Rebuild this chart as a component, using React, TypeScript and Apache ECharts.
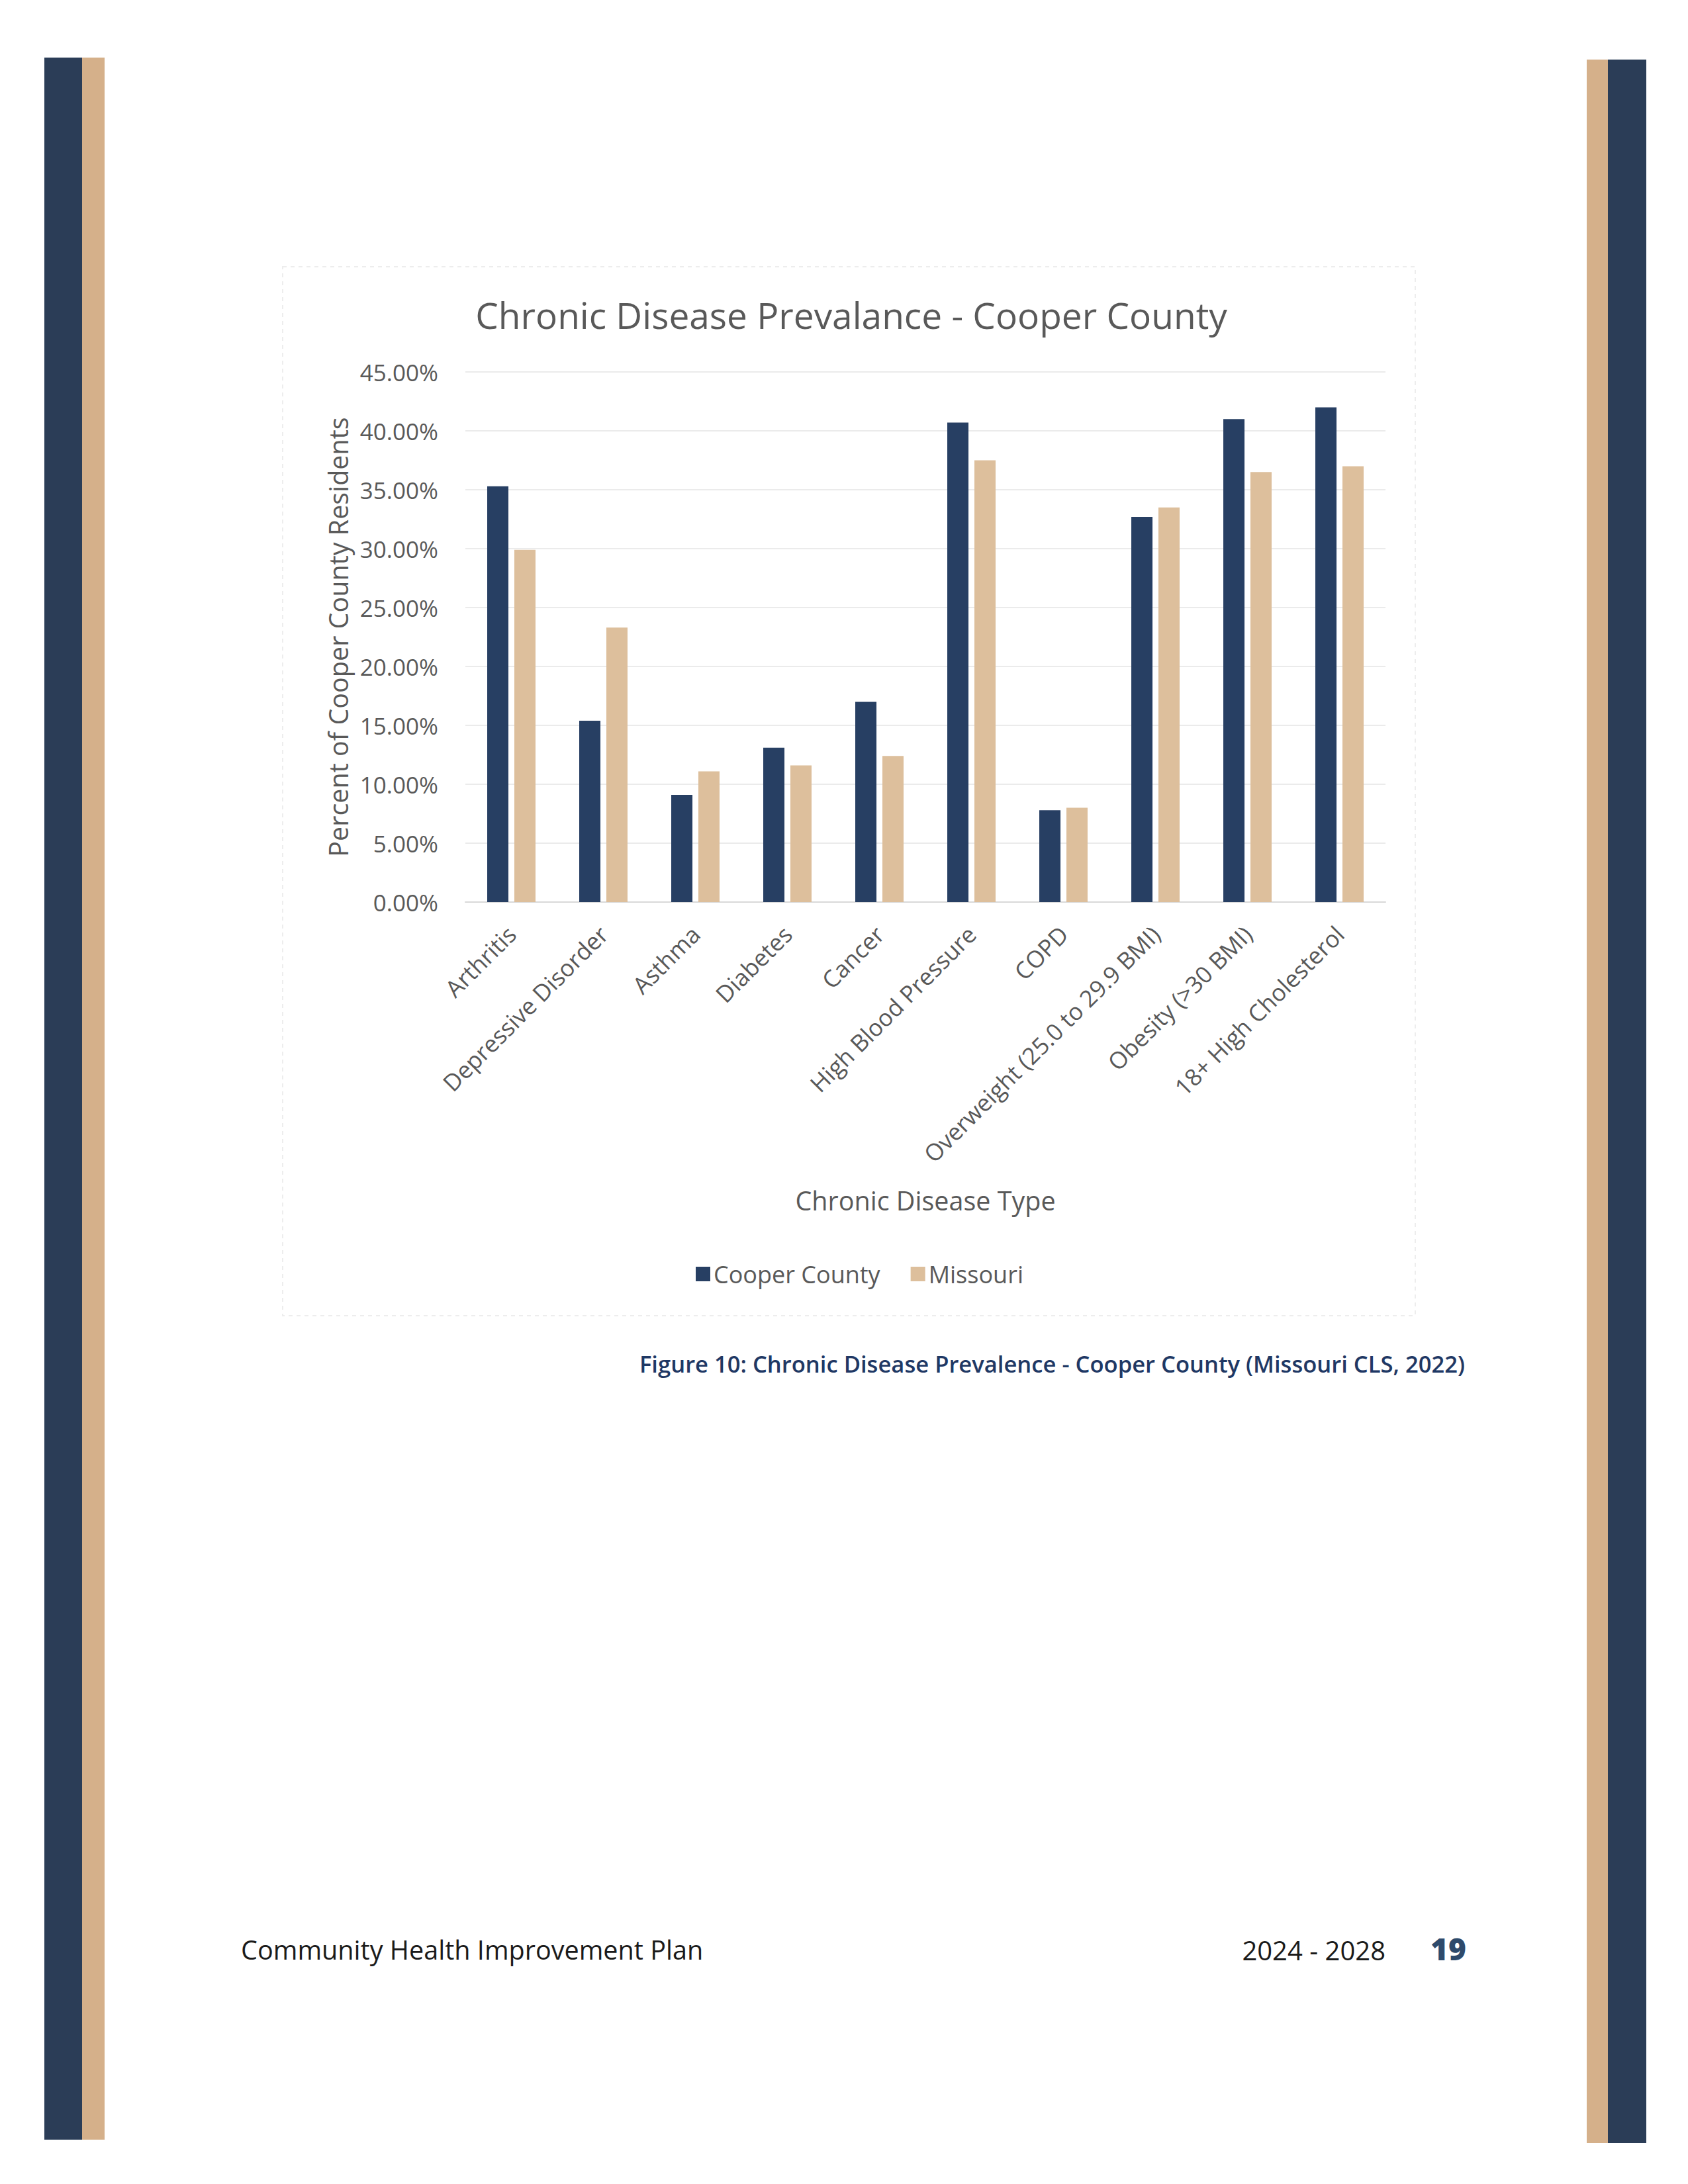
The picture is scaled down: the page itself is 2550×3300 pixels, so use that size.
import React, { useEffect, useRef } from "react";
import * as echarts from "echarts";

const categories = [
  "Arthritis",
  "Depressive Disorder",
  "Asthma",
  "Diabetes",
  "Cancer",
  "High Blood Pressure",
  "COPD",
  "Overweight (25.0 to 29.9 BMI)",
  "Obesity (>30 BMI)",
  "18+ High Cholesterol",
];
const cooperCounty = [35.3, 15.4, 9.1, 13.1, 17.0, 40.7, 7.8, 32.7, 41.0, 42.0];
const missouri = [29.9, 23.3, 11.1, 11.6, 12.4, 37.5, 8.0, 33.5, 36.5, 37.0];
const seriesNames = ["Cooper County", "Missouri"];

const chartTitle = "Chronic Disease Prevalance - Cooper County";
const yAxisTitle = "Percent of Cooper County Residents";
const xAxisTitle = "Chronic Disease Type";
const caption = "Figure 10: Chronic Disease Prevalence - Cooper County (Missouri CLS, 2022)";
const footerLeft = "Community Health Improvement Plan";
const footerYears = "2024 - 2028";
const pageNumber = "19";

const NAVY = "#273F63";
const TAN = "#DDBF9C";
const SIDE_NAVY = "#2B3D57";
const SIDE_TAN = "#D5B08A";
const GRAY = "#595959";
const FONT = "'Open Sans', 'Noto Sans', sans-serif";

export default function App() {
  const ref = useRef<HTMLDivElement>(null);
  useEffect(() => {
    if (!ref.current) return;
    const chart = echarts.init(ref.current, null, { renderer: "svg" });
    chart.setOption({
      animation: false,
      backgroundColor: "#ffffff",
      textStyle: { fontFamily: FONT },
      title: {
        text: chartTitle,
        left: 1281,
        top: 443,
        textAlign: "center",
        textStyle: { fontFamily: FONT, fontSize: 55, fontWeight: "normal", color: GRAY },
      },
      legend: {
        data: seriesNames,
        left: 1046,
        top: 1902,
        itemWidth: 22,
        itemHeight: 22,
        itemGap: 46,
        icon: "rect",
        textStyle: { fontFamily: FONT, fontSize: 36, color: GRAY },
      },
      grid: {
        left: 703,
        right: 2550 - 2093,
        top: 562,
        bottom: 3300 - 1363,
        containLabel: false,
        outerBoundsMode: "none",
      },
      xAxis: {
        type: "category",
        data: categories,
        axisTick: { show: false },
        axisLine: { lineStyle: { color: "#D9D9D9", width: 2 } },
        axisLabel: {
          rotate: 45,
          interval: 0,
          margin: 42,
          fontFamily: FONT,
          fontSize: 35.5,
          color: GRAY,
        },
        name: xAxisTitle,
        nameLocation: "middle",
        nameGap: 431,
        nameTextStyle: { fontFamily: FONT, fontSize: 39.5, color: GRAY },
      },
      yAxis: {
        type: "value",
        min: 0,
        max: 45,
        interval: 5,
        axisLine: { show: false },
        axisTick: { show: false },
        splitLine: { lineStyle: { color: "#EBEBEB", width: 2 } },
        axisLabel: {
          margin: 41,
          fontFamily: FONT,
          fontSize: 35,
          color: GRAY,
          formatter: (v: number) => v.toFixed(2) + "%",
        },
        name: yAxisTitle,
        nameLocation: "middle",
        nameGap: 172,
        nameTextStyle: { fontFamily: FONT, fontSize: 39.5, color: GRAY },
      },
      series: [
        {
          name: seriesNames[0],
          type: "bar",
          data: cooperCounty,
          barWidth: 32,
          barGap: "28%",
          itemStyle: { color: NAVY },
        },
        {
          name: seriesNames[1],
          type: "bar",
          data: missouri,
          barWidth: 32,
          barGap: "28%",
          itemStyle: { color: TAN },
        },
      ],
      graphic: [
        { type: "rect", shape: { x: 67, y: 87, width: 57, height: 3146 }, style: { fill: SIDE_NAVY } },
        { type: "rect", shape: { x: 124, y: 87, width: 34, height: 3146 }, style: { fill: SIDE_TAN } },
        { type: "rect", shape: { x: 2397, y: 90, width: 32, height: 3148 }, style: { fill: SIDE_TAN } },
        { type: "rect", shape: { x: 2429, y: 90, width: 58, height: 3148 }, style: { fill: SIDE_NAVY } },
        {
          type: "rect",
          shape: { x: 427, y: 403, width: 1711, height: 1585 },
          style: { fill: "none", stroke: "#EDEDED", lineWidth: 2, lineDash: [6, 6] },
          z: -1,
        },
        {
          type: "text",
          x: 2213,
          y: 2060,
          style: {
            text: caption,
            fontFamily: FONT,
            fontSize: 34.6,
            fontWeight: 600,
            fill: "#1F3864",
            align: "right",
            verticalAlign: "middle",
          },
        },
        {
          type: "text",
          x: 364,
          y: 2946,
          style: {
            text: footerLeft,
            fontFamily: FONT,
            fontSize: 39.6,
            fill: "#1a1a1a",
            align: "left",
            verticalAlign: "middle",
          },
        },
        {
          type: "text",
          x: 2093,
          y: 2946,
          style: {
            text: footerYears,
            fontFamily: FONT,
            fontSize: 40,
            fill: "#1a1a1a",
            align: "right",
            verticalAlign: "middle",
          },
        },
        {
          type: "text",
          x: 2215,
          y: 2944,
          style: {
            text: pageNumber,
            fontFamily: FONT,
            fontSize: 46,
            fontWeight: 900,
            fill: "#2E4A6B",
            align: "right",
            verticalAlign: "middle",
          },
        },
      ],
    });
    return () => chart.dispose();
  }, []);
  return (
    <div
      ref={ref}
      style={{ position: "absolute", left: 0, top: 0, width: 2550, height: 3300, background: "#fff" }}
    />
  );
}
